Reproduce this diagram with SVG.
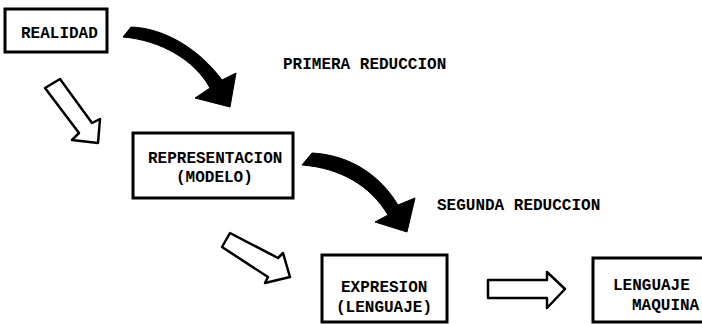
<svg xmlns="http://www.w3.org/2000/svg" width="702" height="324" viewBox="0 0 702 324">
<style>
.box{fill:#fff;stroke:#000;stroke-width:3}
.t{font-family:"Liberation Mono","DejaVu Sans Mono",monospace;font-weight:bold;font-size:16px;fill:#000}
.solid{fill:#000;stroke:#000;stroke-width:1;stroke-linejoin:round}
.hollow{fill:#fff;stroke:#000;stroke-width:2.5;stroke-linejoin:round}
</style>
<rect width="702" height="324" fill="#fff"/>
<g id="connectors">
<path class="solid" d="M123,37 L131,27 C165,28 200,50 222,80 L236,73 L230,107 L195,98 L210,88 C195,60 160,40 123,37 Z"/>
<path class="solid" d="M302,165 L312,153 C350,155 380,175 398,205 L415,198 L407,232 L375,222 L388,215 C370,185 340,168 302,165 Z"/>
<path class="hollow" d="M45,88 L60,79 L92,123 L100,119 L98,143 L72,140 L79,133 Z"/>
<path class="hollow" d="M222,247 L230,233 L278,258 L283,253 L290,277 L265,283 L268,277 Z"/>
<path class="hollow" d="M488,280 L547,280 L547,272 L565,289 L547,308 L547,298 L488,298 Z"/>
</g>
<g id="realidad">
<rect class="box" x="5" y="9" width="102" height="43"/>
<text class="t" x="21" y="38">REALIDAD</text>
</g>
<g id="representacion">
<rect class="box" x="133" y="133" width="160" height="65"/>
<text class="t" x="148" y="163">REPRESENTACION</text>
<text class="t" x="176" y="182">(MODELO)</text>
</g>
<g id="expresion">
<rect class="box" x="322" y="255" width="125" height="67"/>
<text class="t" x="341" y="292">EXPRESION</text>
<text class="t" x="336" y="312">(LENGUAJE)</text>
</g>
<g id="lenguaje-maquina">
<rect class="box" x="593" y="258" width="112" height="64"/>
<text class="t" x="613" y="290">LENGUAJE</text>
<text class="t" x="632" y="310">MAQUINA</text>
</g>
<g id="labels">
<text class="t" x="283" y="69">PRIMERA REDUCCION</text>
<text class="t" x="437" y="210">SEGUNDA REDUCCION</text>
</g>
</svg>
